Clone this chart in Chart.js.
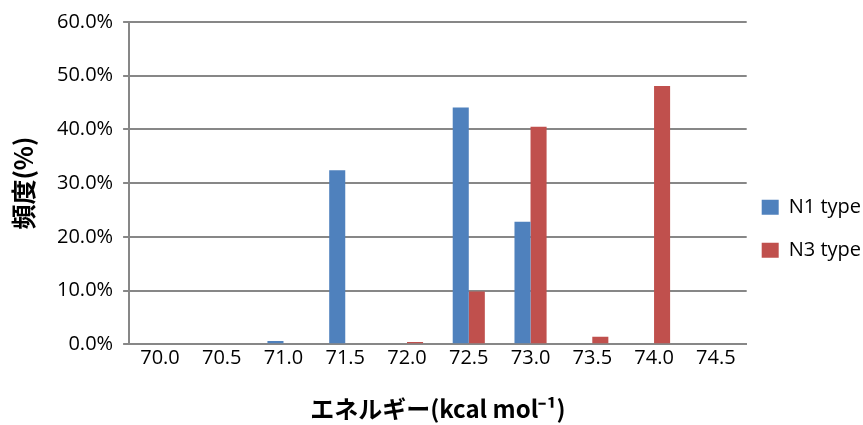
<!DOCTYPE html>
<html>
<head>
<meta charset="utf-8">
<script src="https://cdn.jsdelivr.net/npm/chart.js@4/dist/chart.umd.min.js"></script>
<style>
  html, body { margin: 0; padding: 0; background: #fff; }
  #wrap { width: 863px; height: 425px; }
</style>
</head>
<body>
<div id="wrap"><canvas id="chart"></canvas></div>
<script>
// energy bins (kcal/mol)
const energies = ["70.0", "70.5", "71.0", "71.5", "72.0", "72.5", "73.0", "73.5", "74.0", "74.5"];
// frequency in %
const n1Values = [0, 0, 0.6, 32.4, 0, 44.1, 22.8, 0, 0, 0];
const n3Values = [0, 0, 0, 0, 0.4, 9.8, 40.5, 1.4, 48.1, 0];
const seriesNames = ["N1 type", "N3 type"];

const gridColor = "#878787";
const tickFont = { family: "'Open Sans', 'Noto Sans', sans-serif", size: 20 };

const ctx = document.getElementById("chart");

new Chart(ctx, {
  type: "bar",
  data: {
    labels: energies,
    datasets: [
      {
        // array label -> legend row height follows font lineHeight
        label: [seriesNames[0]],
        data: n1Values,
        backgroundColor: "#4F81BD",
        borderWidth: 0,
      },
      {
        label: [seriesNames[1]],
        data: n3Values,
        backgroundColor: "#C0504D",
        borderWidth: 0,
      },
    ],
  },
  options: {
    responsive: true,
    maintainAspectRatio: false,
    animation: false,
    layout: {
      padding: { top: 12, right: -8, bottom: 0, left: 8 },
    },
    datasets: {
      bar: {
        categoryPercentage: 0.52,
        barPercentage: 1.0,
      },
    },
    scales: {
      x: {
        grid: { display: false, drawTicks: false },
        border: { display: true, color: gridColor, width: 2 },
        ticks: { color: "#000", font: tickFont, padding: 2 },
        title: {
          display: true,
          text: "エネルギー(kcal mol⁻¹)",
          color: "#000",
          font: { family: "'Noto Sans CJK JP', sans-serif", size: 24, weight: "bold" },
          padding: { top: 22, bottom: 2 },
        },
      },
      y: {
        min: 0,
        max: 60,
        grid: {
          color: gridColor,
          lineWidth: 2,
          tickLength: 6,
          drawTicks: true,
        },
        border: { display: true, color: gridColor, width: 2 },
        ticks: {
          stepSize: 10,
          color: "#000",
          font: tickFont,
          padding: 10,
          callback: (v) => v.toFixed(1) + "%",
        },
        title: {
          display: true,
          text: "頻度(%)",
          color: "#000",
          font: { family: "'Noto Sans CJK JP', sans-serif", size: 25, weight: "bold" },
          padding: { top: 0, bottom: 9 },
        },
      },
    },
    plugins: {
      legend: {
        position: "right",
        align: "center",
        // empty title only pushes the items down a little
        title: {
          display: true,
          text: " ",
          font: { size: 12 },
          padding: 7,
        },
        labels: {
          color: "#000",
          font: { family: "'Open Sans', 'Noto Sans', sans-serif", size: 20, lineHeight: 1.4 },
          boxWidth: 17,
          boxHeight: 15,
          padding: 15,
        },
      },
      tooltip: { enabled: false },
    },
  },
});
</script>
</body>
</html>
